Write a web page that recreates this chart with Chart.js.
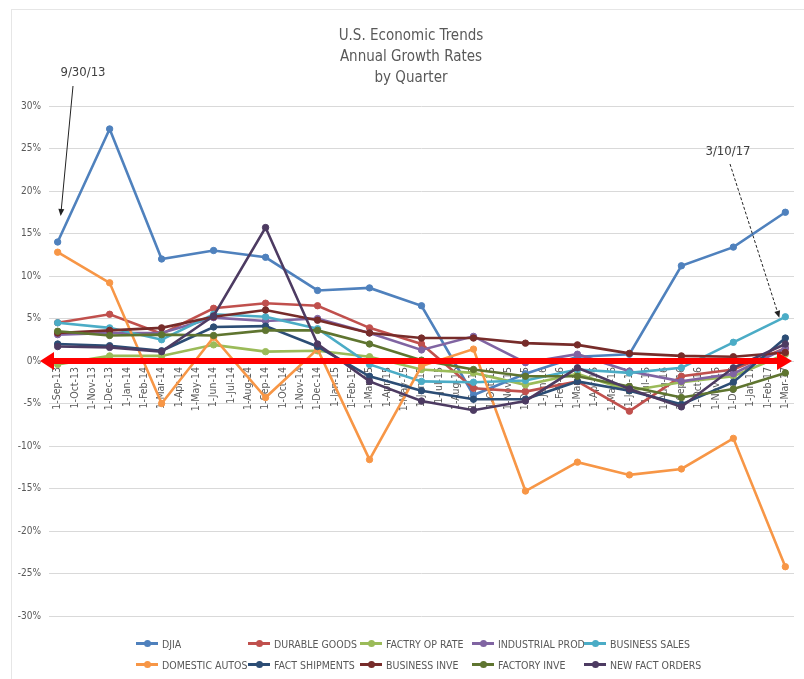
<!DOCTYPE html>
<html><head><meta charset="utf-8">
<script src="https://cdn.jsdelivr.net/npm/chart.js@4.4.1/dist/chart.umd.min.js"></script>
<style>
body{margin:0;background:#fff;}
#wrap{position:relative;width:804px;height:679px;overflow:hidden;color:#595959;font-family:"Liberation Sans Narrow","DejaVu Sans Condensed","Liberation Sans",sans-serif;}
#frame{position:absolute;left:11px;top:9px;width:820px;height:700px;border:1px solid #e6e6e6;}
#c{position:absolute;left:0;top:0;}
#title{position:absolute;left:0;top:25px;width:822px;text-align:center;font-size:15px;line-height:21px;}
#legend{position:absolute;left:136px;top:633px;display:grid;grid-template-columns:repeat(5,112px);}
.item{display:flex;align-items:center;height:21px;font-size:10.5px;white-space:nowrap;}
.mk{position:relative;width:22px;height:3px;margin-right:4px;flex:none;}
.mk i{position:absolute;left:7.5px;top:-2px;width:7px;height:7px;border-radius:50%;}
</style></head>
<body>
<div id="wrap">
<div id="frame"></div>
<canvas id="c" width="804" height="679"></canvas>
<div id="title">U.S. Economic Trends<br>Annual Growth Rates<br>by Quarter</div>
<div id="legend"></div>
</div>
<script>
// Category (month) labels of the date axis
const months = ['1-Sep-13','1-Oct-13','1-Nov-13','1-Dec-13','1-Jan-14','1-Feb-14','1-Mar-14','1-Apr-14','1-May-14','1-Jun-14','1-Jul-14','1-Aug-14','1-Sep-14','1-Oct-14','1-Nov-14','1-Dec-14','1-Jan-15','1-Feb-15','1-Mar-15','1-Apr-15','1-May-15','1-Jun-15','1-Jul-15','1-Aug-15','1-Sep-15','1-Oct-15','1-Nov-15','1-Dec-15','1-Jan-16','1-Feb-16','1-Mar-16','1-Apr-16','1-May-16','1-Jun-16','1-Jul-16','1-Aug-16','1-Sep-16','1-Oct-16','1-Nov-16','1-Dec-16','1-Jan-17','1-Feb-17','1-Mar-17'];
// Quarterly observation dates
const quarters = ['1-Sep-13','1-Dec-13','1-Mar-14','1-Jun-14','1-Sep-14','1-Dec-14','1-Mar-15','1-Jun-15','1-Sep-15','1-Dec-15','1-Mar-16','1-Jun-16','1-Sep-16','1-Dec-16','1-Mar-17'];

// Annual growth rates (%)
const djia           = [14.0, 27.3, 12.0, 13.0, 12.2,  8.3,   8.6,  6.5, -4.0,  -1.5,  0.5,   0.8,  11.2, 13.4,  17.5];
const durableGoods   = [ 4.5,  5.5,  3.2,  6.2,  6.8,  6.5,   3.9,  2.0, -3.2,  -3.6, -2.4,  -5.9,  -1.8, -1.0,   1.5];
const factryOpRate   = [-0.4,  0.6,  0.6,  1.9,  1.1,  1.2,   0.5, -1.0, -1.4,  -2.8, -1.5,  -3.5,  -2.5, -1.8,   0.8];
const industrialProd = [ 3.1,  3.3,  3.3,  5.1,  4.7,  5.0,   3.3,  1.3,  2.9,  -0.2,  0.8,  -1.2,  -2.4, -1.5,   1.5];
const businessSales  = [ 4.5,  3.9,  2.5,  5.5,  5.2,  3.8,  -0.4, -2.4, -2.5,  -2.3, -1.0,  -1.4,  -0.8,  2.2,   5.2];
const domesticAutos  = [12.8,  9.2, -5.0,  2.8, -4.3,  1.4, -11.6, -0.6,  1.4, -15.3, -11.9, -13.4, -12.7, -9.1, -24.2];
const factShipments  = [ 2.0,  1.8,  1.2,  4.0,  4.1,  1.7,  -1.8, -3.5, -4.5,  -4.5, -2.4,  -3.5,  -5.1, -2.5,   2.7];
const businessInve   = [ 3.3,  3.6,  3.9,  5.2,  6.0,  4.8,   3.3,  2.7,  2.7,   2.1,  1.9,   0.9,   0.6,  0.5,   1.0];
const factoryInve    = [ 3.5,  3.0,  3.1,  3.0,  3.6,  3.6,   2.0,  0.1, -1.0,  -1.8, -1.8,  -3.0,  -4.3, -3.3,  -1.4];
const newFactOrders  = [ 1.7,  1.6,  1.1,  5.3, 15.7,  2.0,  -2.4, -4.7, -5.8,  -4.7, -0.8,  -3.3,  -5.4, -0.8,   2.0];

const seriesNames = ['DJIA','DURABLE GOODS','FACTRY OP RATE','INDUSTRIAL PROD','BUSINESS SALES','DOMESTIC AUTOS','FACT SHIPMENTS','BUSINESS INVE','FACTORY INVE','NEW FACT ORDERS'];
const seriesValues = [djia, durableGoods, factryOpRate, industrialProd, businessSales, domesticAutos, factShipments, businessInve, factoryInve, newFactOrders];
const colors = ['#4F81BD','#C0504D','#9BBB59','#8064A2','#4BACC6','#F79646','#2C4D75','#772C2A','#5F7530','#4D3B62'];

const datasets = seriesNames.map((name, i) => ({
  label: name,
  data: quarters.map((q, k) => ({x: q, y: seriesValues[i][k]})),
  borderColor: colors[i],
  backgroundColor: colors[i],
  pointBackgroundColor: colors[i],
  pointBorderColor: colors[i],
  borderWidth: 2.6,
  pointRadius: 3.2,
  pointBorderWidth: 1,
  tension: 0,
  order: seriesNames.length - i
}));

function arrow(ctx, x1, y1, x2, y2, dashed) {
  ctx.save();
  ctx.strokeStyle = '#222'; ctx.fillStyle = '#222'; ctx.lineWidth = 1;
  if (dashed) ctx.setLineDash([3, 2]);
  const ang = Math.atan2(y2 - y1, x2 - x1);
  const hl = 7;
  ctx.beginPath(); ctx.moveTo(x1, y1);
  ctx.lineTo(x2 - Math.cos(ang) * hl * 0.8, y2 - Math.sin(ang) * hl * 0.8); ctx.stroke();
  ctx.setLineDash([]);
  ctx.beginPath(); ctx.moveTo(x2, y2);
  ctx.lineTo(x2 - hl * Math.cos(ang) + 3 * Math.sin(ang), y2 - hl * Math.sin(ang) - 3 * Math.cos(ang));
  ctx.lineTo(x2 - hl * Math.cos(ang) - 3 * Math.sin(ang), y2 - hl * Math.sin(ang) + 3 * Math.cos(ang));
  ctx.closePath(); ctx.fill();
  ctx.restore();
}

const annot = {
  id: 'annot',
  afterDatasetsDraw(chart) {
    const {ctx, chartArea: a, scales: {y}} = chart;
    const y0 = y.getPixelForValue(0);
    ctx.save();
    ctx.strokeStyle = '#FF0000'; ctx.fillStyle = '#FF0000'; ctx.lineWidth = 6;
    const L = a.left - 9, R = a.right - 2;
    ctx.beginPath(); ctx.moveTo(L + 10, y0); ctx.lineTo(R - 10, y0); ctx.stroke();
    ctx.beginPath(); ctx.moveTo(L, y0); ctx.lineTo(L + 14, y0 - 9); ctx.lineTo(L + 14, y0 + 9); ctx.closePath(); ctx.fill();
    ctx.beginPath(); ctx.moveTo(R, y0); ctx.lineTo(R - 15, y0 - 9); ctx.lineTo(R - 15, y0 + 9); ctx.closePath(); ctx.fill();
    ctx.restore();

    const p0 = chart.getDatasetMeta(0).data[0];
    const pN = chart.getDatasetMeta(4).data[quarters.length - 1];
    ctx.save();
    ctx.fillStyle = '#404040';
    ctx.font = '13px "Liberation Sans Narrow","DejaVu Sans Condensed","Liberation Sans",sans-serif';
    ctx.textAlign = 'center'; ctx.textBaseline = 'middle';
    ctx.fillText('9/30/13', 83, 73);
    ctx.fillText('3/10/17', 728, 152);
    ctx.restore();
    arrow(ctx, 73, 86, p0.x + 3, p0.y - 26, false);
    arrow(ctx, 730, 164, pN.x - 6, pN.y + 1, true);
  }
};

const FONT = '"Liberation Sans Narrow","DejaVu Sans Condensed","Liberation Sans",sans-serif';

new Chart(document.getElementById('c'), {
  type: 'line',
  data: { labels: months, datasets },
  plugins: [annot],
  options: {
    responsive: false,
    animation: false,
    devicePixelRatio: 1,
    layout: { padding: { left: 0, right: 4, top: 106, bottom: 63 } },
    plugins: { legend: { display: false }, title: { display: false }, tooltip: { enabled: false } },
    scales: {
      x: {
        type: 'category',
        position: { y: 0 },
        offset: true,
        grid: { display: false, drawTicks: false },
        border: { display: false },
        ticks: {
          autoSkip: false, maxRotation: 90, minRotation: 90, padding: 6,
          color: '#595959', font: { family: FONT, size: 10.5 }
        }
      },
      y: {
        min: -30, max: 30,
        afterFit(s) { s.width = 49; },
        grid: { color: '#d9d9d9', lineWidth: 1, drawTicks: false },
        border: { display: false },
        ticks: {
          stepSize: 5, padding: 8, color: '#595959',
          font: { family: FONT, size: 10 },
          callback: v => v + '%'
        }
      }
    }
  }
});

const leg = document.getElementById('legend');
seriesNames.forEach((n, i) => {
  const d = document.createElement('div'); d.className = 'item';
  const m = document.createElement('span'); m.className = 'mk'; m.style.background = colors[i];
  const dot = document.createElement('i'); dot.style.background = colors[i]; m.appendChild(dot);
  const t = document.createElement('span'); t.textContent = n;
  d.appendChild(m); d.appendChild(t); leg.appendChild(d);
});
</script>
</body></html>
